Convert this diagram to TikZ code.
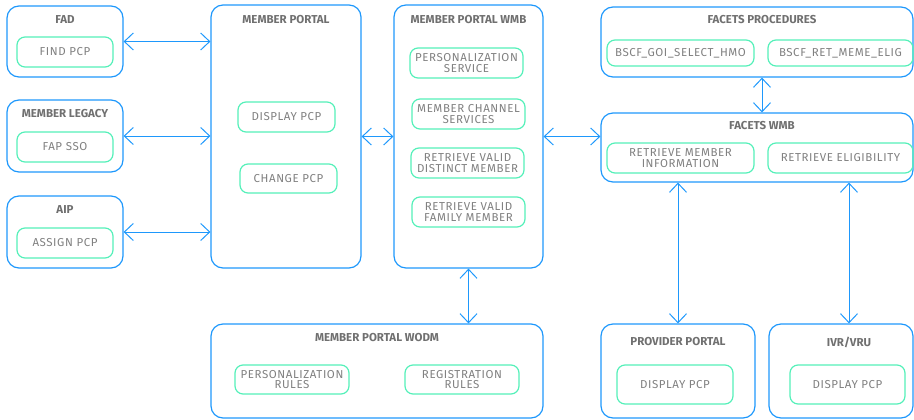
\documentclass[tikz,border=0pt]{standalone}
\usepackage{fontspec}
\setmainfont{Fira Sans}
\usetikzlibrary{arrows.meta}

\definecolor{boxblue}{RGB}{30,152,252}
\definecolor{itemgreen}{RGB}{85,240,185}
\definecolor{txtgray}{RGB}{128,128,128}
\definecolor{titlegray}{RGB}{112,112,112}

\tikzset{
  system/.style={draw=boxblue, line width=1.2pt, rounded corners=12pt, inner sep=0pt},
  item/.style={draw=itemgreen, line width=1.2pt, rounded corners=8pt, align=center, inner sep=0pt,
    text=txtgray, font=\fontsize{11.5}{10.5}\selectfont\addfontfeature{LetterSpace=5}},
  title/.style={text=titlegray, inner sep=0.75pt, font=\bfseries\fontsize{11.5}{11.5}\selectfont},
  link/.style={draw=boxblue, line width=1pt,
    {Straight Barb[length=9pt,width=17pt]}-{Straight Barb[length=9pt,width=17pt]}}
}

\begin{document}
\begin{tikzpicture}[x=1pt,y=1pt,yscale=-1]
        \useasboundingbox (0,0) rectangle (914,420);

        % FAD
        \node [system, minimum width=116pt, minimum height=71pt] (fad) at (65,41.5) {};
        \node [title] (fadtitle) at (65,20) {FAD};
        \node [item, minimum width=96pt, minimum height=30pt] (findpcp) at (65,52) {FIND PCP};
        % Member legacy
        \node [system, minimum width=116pt, minimum height=72pt] (legacy) at (65,136) {};
        \node [title] (legacytitle) at (65,114) {MEMBER LEGACY};
        \node [item, minimum width=96pt, minimum height=30pt] (fapsso) at (65,147) {FAP SSO};
        % AIP
        \node [system, minimum width=116pt, minimum height=72pt] (aip) at (65,232) {};
        \node [title] (aiptitle) at (65,210) {AIP};
        \node [item, minimum width=96pt, minimum height=30pt] (assignpcp) at (65,243) {ASSIGN PCP};

        % Member portal
        \node [system, minimum width=150pt, minimum height=263pt] (mp) at (286,136.5) {};
        \node [title] (mptitle) at (286,20) {MEMBER PORTAL};
        \node [item, minimum width=97pt, minimum height=30pt] (mpdisplay) at (286.5,117) {DISPLAY PCP};
        \node [item, minimum width=97pt, minimum height=29pt] (mpchange) at (288.5,178.5) {CHANGE PCP};

        % Member portal WMB
        \node [system, minimum width=149pt, minimum height=263pt] (wmb) at (468.5,136.5) {};
        \node [title] (wmbtitle) at (468.5,20) {MEMBER PORTAL WMB};
        \node [item, minimum width=113pt, minimum height=30pt] (perssvc) at (466.5,63) {PERSONALIZATION\\SERVICE};
        \node [item, minimum width=113pt, minimum height=30pt] (channel) at (468.5,114) {MEMBER CHANNEL\\SERVICES};
        \node [item, minimum width=113pt, minimum height=30pt] (distinct) at (467.5,163) {RETRIEVE VALID\\DISTINCT MEMBER};
        \node [item, minimum width=113pt, minimum height=30pt] (family) at (468.5,212) {RETRIEVE VALID\\FAMILY MEMBER};

        % Member portal WODM
        \node [system, minimum width=332pt, minimum height=94pt] (wodm) at (377,371) {};
        \node [title] (wodmtitle) at (377,338) {MEMBER PORTAL WODM};
        \node [item, minimum width=114pt, minimum height=29pt] (persrules) at (292,379.5) {PERSONALIZATION\\RULES};
        \node [item, minimum width=114pt, minimum height=29pt] (regrules) at (462,379.5) {REGISTRATION\\RULES};

        % Facets procedures
        \node [system, minimum width=312pt, minimum height=70pt] (fproc) at (757,42) {};
        \node [title] (fproctitle) at (762,20) {FACETS PROCEDURES};
        \node [item, minimum width=147pt, minimum height=26pt] (goiselect) at (680.5,53) {BSCF\_GOI\_SELECT\_HMO};
        \node [item, minimum width=145pt, minimum height=26pt] (retmeme) at (840.5,53) {BSCF\_RET\_MEME\_ELIG};

        % Facets WMB
        \node [system, minimum width=312pt, minimum height=69pt] (fwmb) at (757,147.5) {};
        \node [title] (fwmbtitle) at (762,126) {FACETS WMB};
        \node [item, minimum width=147pt, minimum height=30pt] (retmember) at (680.5,158) {RETRIEVE MEMBER\\INFORMATION};
        \node [item, minimum width=145pt, minimum height=30pt] (retelig) at (840.5,158) {RETRIEVE ELIGIBILITY};

        % Provider portal
        \node [system, minimum width=154pt, minimum height=94pt] (prov) at (678,371) {};
        \node [title] (provtitle) at (678,342) {PROVIDER PORTAL};
        \node [item, minimum width=116pt, minimum height=39pt] (provdisplay) at (675,384.5) {DISPLAY PCP};

        % IVR/VRU
        \node [system, minimum width=144pt, minimum height=94pt] (ivr) at (841,371) {};
        \node [title] (ivrtitle) at (849,342) {IVR/VRU};
        \node [item, minimum width=115pt, minimum height=39pt] (ivrdisplay) at (847.5,384.5) {DISPLAY PCP};

        % Links
        \draw [link] (fad.east) -- (fad.east -| mp.west);
        \draw [link] (legacy.east) -- (legacy.east -| mp.west);
        \draw [link] (aip.east) -- (aip.east -| mp.west);
        \draw [link] (mp.east) -- (wmb.west);
        \draw [link] (wmb.east) -- (wmb.east -| fwmb.west);
        \draw [link] (fproctitle.south |- fproc.south) -- (fproctitle.south |- fwmb.north);
        \draw [link] (wmb.south) -- (wmb.south |- wodm.north);
        \draw [link] (prov.north |- fwmb.south) -- (prov.north);
        \draw [link] (ivrtitle.north |- fwmb.south) -- (ivrtitle.north |- ivr.north);
\end{tikzpicture}
\end{document}
